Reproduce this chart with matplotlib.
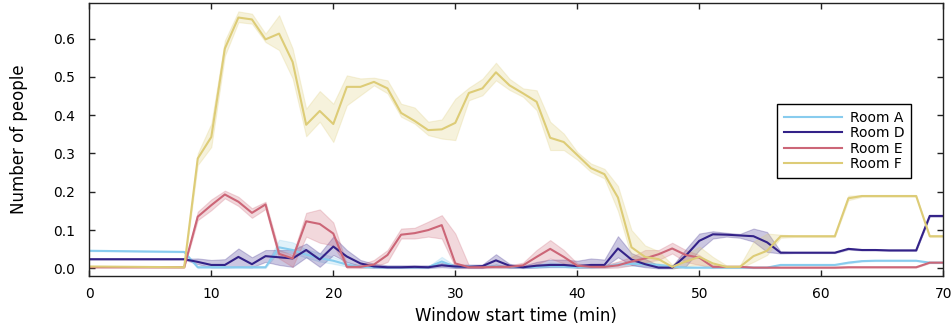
import matplotlib
matplotlib.use("Agg")
import matplotlib.pyplot as plt
import numpy as np

# Window start times (min): first window, then every 10/9 min from 7.78 to 70
minutes = [0.0] + [round(k * 10 / 9, 3) for k in range(7, 64)]

rooms = ["Room A", "Room D", "Room E", "Room F"]
colors = ["#88CCEE", "#332288", "#CC6677", "#DDCC77"]

room_a = [0.046, 0.043, 0.003, 0.003, 0.003, 0.003, 0.003, 0.003, 0.055, 0.048,
          0.036, 0.027, 0.020, 0.010, 0.004, 0.003, 0.003, 0.003, 0.003, 0.003,
          0.018, 0.004, 0.005, 0.004, 0.005, 0.003, 0.003, 0.004, 0.006, 0.005,
          0.003, 0.003, 0.004, 0.010, 0.012, 0.011, 0.009, 0.005, 0.002, 0.002,
          0.002, 0.002, 0.002, 0.002, 0.002, 0.009, 0.009, 0.009, 0.009, 0.009,
          0.015, 0.019, 0.020, 0.020, 0.020, 0.020, 0.015, 0.015]
room_a_lo = [0.045, 0.042, 0.001, 0.001, 0.001, 0.001, 0.001, 0.001, 0.045, 0.040,
             0.028, 0.018, 0.012, 0.005, 0.002, 0.001, 0.001, 0.001, 0.001, 0.001,
             0.010, 0.002, 0.002, 0.002, 0.002, 0.001, 0.001, 0.002, 0.002, 0.002,
             0.001, 0.001, 0.002, 0.005, 0.007, 0.006, 0.005, 0.002, 0.001, 0.001,
             0.001, 0.001, 0.001, 0.001, 0.001, 0.008, 0.008, 0.008, 0.008, 0.008,
             0.013, 0.018, 0.019, 0.019, 0.019, 0.019, 0.014, 0.014]
room_a_hi = [0.047, 0.044, 0.005, 0.005, 0.005, 0.005, 0.005, 0.005, 0.075, 0.068,
             0.050, 0.040, 0.030, 0.016, 0.007, 0.005, 0.005, 0.005, 0.005, 0.005,
             0.030, 0.007, 0.008, 0.007, 0.010, 0.006, 0.006, 0.010, 0.015, 0.012,
             0.006, 0.006, 0.008, 0.016, 0.018, 0.016, 0.013, 0.008, 0.004, 0.004,
             0.004, 0.004, 0.004, 0.004, 0.004, 0.010, 0.010, 0.010, 0.010, 0.010,
             0.017, 0.020, 0.021, 0.021, 0.021, 0.021, 0.016, 0.016]

room_d = [0.024, 0.024, 0.017, 0.009, 0.009, 0.030, 0.011, 0.032, 0.029, 0.026,
          0.048, 0.023, 0.057, 0.031, 0.013, 0.005, 0.003, 0.003, 0.004, 0.003,
          0.008, 0.005, 0.004, 0.006, 0.021, 0.007, 0.003, 0.007, 0.009, 0.009,
          0.006, 0.009, 0.009, 0.052, 0.023, 0.011, 0.002, 0.002, 0.033, 0.072,
          0.089, 0.088, 0.086, 0.084, 0.068, 0.041, 0.041, 0.041, 0.041, 0.041,
          0.051, 0.048, 0.048, 0.047, 0.047, 0.047, 0.137, 0.137]
room_d_lo = [0.023, 0.023, 0.011, 0.003, 0.003, 0.004, 0.003, 0.017, 0.009, 0.004,
             0.029, 0.004, 0.035, 0.017, 0.006, 0.002, 0.001, 0.001, 0.001, 0.001,
             0.003, 0.001, 0.001, 0.001, 0.010, 0.002, 0.001, 0.002, 0.004, 0.004,
             0.002, 0.004, 0.004, 0.029, 0.009, 0.003, 0.000, 0.000, 0.005, 0.048,
             0.078, 0.083, 0.080, 0.070, 0.043, 0.039, 0.040, 0.040, 0.040, 0.040,
             0.049, 0.047, 0.047, 0.046, 0.046, 0.046, 0.135, 0.135]
room_d_hi = [0.025, 0.025, 0.026, 0.022, 0.024, 0.052, 0.029, 0.048, 0.048, 0.048,
             0.065, 0.039, 0.083, 0.048, 0.022, 0.012, 0.008, 0.008, 0.008, 0.008,
             0.014, 0.010, 0.010, 0.010, 0.037, 0.012, 0.007, 0.017, 0.023, 0.023,
             0.020, 0.026, 0.023, 0.084, 0.040, 0.025, 0.008, 0.006, 0.050, 0.091,
             0.097, 0.093, 0.090, 0.104, 0.095, 0.044, 0.042, 0.042, 0.042, 0.042,
             0.053, 0.049, 0.049, 0.048, 0.048, 0.048, 0.139, 0.139]

room_e = [0.003, 0.003, 0.135, 0.165, 0.193, 0.174, 0.145, 0.167, 0.038, 0.026,
          0.123, 0.116, 0.091, 0.004, 0.004, 0.010, 0.035, 0.088, 0.092, 0.100,
          0.113, 0.013, 0.003, 0.003, 0.004, 0.004, 0.008, 0.030, 0.051, 0.030,
          0.007, 0.004, 0.004, 0.008, 0.018, 0.026, 0.037, 0.052, 0.035, 0.028,
          0.004, 0.004, 0.004, 0.002, 0.002, 0.002, 0.002, 0.002, 0.002, 0.002,
          0.003, 0.003, 0.003, 0.003, 0.003, 0.003, 0.015, 0.015]
room_e_lo = [0.002, 0.002, 0.126, 0.152, 0.183, 0.163, 0.132, 0.155, 0.026, 0.004,
             0.083, 0.067, 0.060, 0.001, 0.001, 0.003, 0.017, 0.078, 0.078, 0.083,
             0.078, 0.003, 0.001, 0.001, 0.001, 0.001, 0.002, 0.010, 0.026, 0.013,
             0.002, 0.001, 0.001, 0.002, 0.008, 0.017, 0.022, 0.039, 0.017, 0.009,
             0.001, 0.002, 0.002, 0.001, 0.001, 0.001, 0.001, 0.001, 0.001, 0.001,
             0.002, 0.002, 0.002, 0.002, 0.002, 0.002, 0.014, 0.014]
room_e_hi = [0.004, 0.004, 0.148, 0.180, 0.203, 0.187, 0.157, 0.174, 0.048, 0.035,
             0.145, 0.154, 0.120, 0.010, 0.010, 0.022, 0.048, 0.104, 0.106, 0.122,
             0.139, 0.091, 0.008, 0.008, 0.008, 0.008, 0.015, 0.048, 0.074, 0.048,
             0.013, 0.008, 0.008, 0.018, 0.030, 0.048, 0.048, 0.067, 0.048, 0.035,
             0.009, 0.006, 0.006, 0.003, 0.003, 0.003, 0.003, 0.003, 0.003, 0.003,
             0.004, 0.004, 0.004, 0.004, 0.004, 0.004, 0.016, 0.016]

room_f = [0.005, 0.003, 0.287, 0.343, 0.574, 0.655, 0.650, 0.598, 0.613, 0.539,
          0.375, 0.411, 0.377, 0.474, 0.474, 0.487, 0.470, 0.406, 0.385, 0.361,
          0.363, 0.380, 0.458, 0.470, 0.512, 0.478, 0.457, 0.435, 0.341, 0.330,
          0.296, 0.262, 0.246, 0.185, 0.055, 0.030, 0.024, 0.004, 0.018, 0.030,
          0.013, 0.004, 0.004, 0.032, 0.046, 0.084, 0.084, 0.084, 0.084, 0.084,
          0.183, 0.189, 0.189, 0.189, 0.189, 0.189, 0.084, 0.084]
room_f_lo = [0.004, 0.002, 0.270, 0.317, 0.555, 0.643, 0.639, 0.591, 0.570, 0.496,
             0.345, 0.383, 0.330, 0.426, 0.452, 0.478, 0.457, 0.396, 0.378, 0.348,
             0.339, 0.335, 0.439, 0.452, 0.491, 0.466, 0.448, 0.413, 0.309, 0.309,
             0.284, 0.252, 0.235, 0.150, 0.030, 0.012, 0.010, 0.000, 0.005, 0.010,
             0.004, 0.001, 0.001, 0.017, 0.035, 0.080, 0.082, 0.082, 0.082, 0.082,
             0.178, 0.187, 0.187, 0.187, 0.187, 0.187, 0.082, 0.082]
room_f_hi = [0.006, 0.004, 0.300, 0.378, 0.595, 0.671, 0.665, 0.613, 0.661, 0.574,
             0.417, 0.463, 0.430, 0.504, 0.496, 0.498, 0.491, 0.430, 0.420, 0.383,
             0.389, 0.443, 0.472, 0.495, 0.537, 0.495, 0.470, 0.465, 0.383, 0.352,
             0.304, 0.274, 0.260, 0.215, 0.100, 0.060, 0.045, 0.010, 0.035, 0.057,
             0.030, 0.008, 0.008, 0.070, 0.091, 0.088, 0.086, 0.086, 0.086, 0.086,
             0.190, 0.191, 0.191, 0.191, 0.191, 0.191, 0.086, 0.086]

series = [
    (room_a, room_a_lo, room_a_hi),
    (room_d, room_d_lo, room_d_hi),
    (room_e, room_e_lo, room_e_hi),
    (room_f, room_f_lo, room_f_hi),
]

plt.rcParams["font.family"] = ["DejaVu Sans"]

fig = plt.figure(figsize=(9.53, 3.31), dpi=100)
ax = fig.add_axes([0.0937, 0.166, 0.8961, 0.825])

for name, color, (mean, lo, hi) in zip(rooms, colors, series):
    ax.fill_between(minutes, lo, hi, color=color, alpha=0.25, linewidth=0.8)
    ax.plot(minutes, mean, color=color, linewidth=1.5, label=name)

ax.set_xlim(0, 70)
ax.set_ylim(-0.020, 0.693)
ax.set_xticks([0, 10, 20, 30, 40, 50, 60, 70])
ax.set_yticks([0.0, 0.1, 0.2, 0.3, 0.4, 0.5, 0.6])
ax.set_yticklabels(["0.0", "0.1", "0.2", "0.3", "0.4", "0.5", "0.6"])

ax.tick_params(axis="both", direction="in", top=True, right=True,
               length=4, width=1.0, color="#222222", labelsize=10)
ax.tick_params(axis="x", pad=8)
ax.tick_params(axis="y", pad=10)
for sp in ax.spines.values():
    sp.set_color("#222222")
    sp.set_linewidth(1.0)

ax.set_xlabel("Window start time (min)", fontsize=12, labelpad=4)
ax.set_ylabel("Number of people", fontsize=12, labelpad=18)

leg = ax.legend(loc="upper left", bbox_to_anchor=(0.805, 0.630),
                borderaxespad=0, fontsize=10, frameon=True, fancybox=False,
                edgecolor="black", framealpha=1, handlelength=4.2,
                handletextpad=0.55, labelspacing=0.1, borderpad=0.5)
leg.get_frame().set_linewidth(1.0)

fig.savefig("out.png", dpi=100)
